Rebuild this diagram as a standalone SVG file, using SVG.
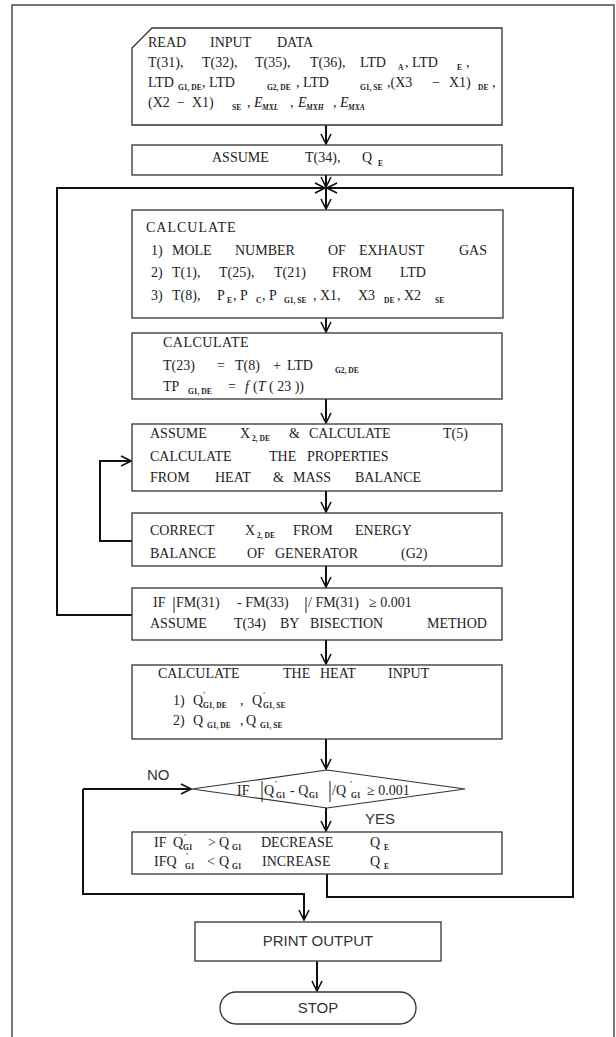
<svg xmlns="http://www.w3.org/2000/svg" width="616" height="1037" viewBox="0 0 616 1037">
<defs>
<style>
.t{font-family:"Liberation Serif","Times New Roman",serif;font-size:14px;fill:#222}
.s{font-family:"Liberation Serif","Times New Roman",serif;font-size:7.5px;font-weight:bold;fill:#222}
.sans{font-family:"Liberation Sans",Arial,sans-serif;font-size:15px;fill:#333}
.box{fill:#fff;stroke:#333;stroke-width:1.3}
.c{fill:none;stroke:#111;stroke-width:2}
</style>
<marker id="arr" viewBox="0 0 12 12" refX="11" refY="6" markerWidth="12" markerHeight="12" markerUnits="userSpaceOnUse" orient="auto"><path d="M1,1 L11,6 L1,11" fill="none" stroke="#111" stroke-width="1.6"/></marker>
</defs>
<rect width="616" height="1037" fill="#fff"/>
<rect x="12" y="5" width="602" height="1040" fill="none" stroke="#777" stroke-width="2"/>

<g id="connectors">
<path class="c" d="M326,125 V144" marker-end="url(#arr)"/>
<path class="c" d="M326,175 V187" marker-end="url(#arr)"/>
<path class="c" d="M132,615 H57 V188 H325" marker-end="url(#arr)"/>
<path class="c" d="M327,874 V897 H573 V188 H327" marker-end="url(#arr)"/>
<path class="c" d="M326,188 V209" marker-end="url(#arr)"/>
<path class="c" d="M326,318 V332" marker-end="url(#arr)"/>
<path class="c" d="M326,399 V423" marker-end="url(#arr)"/>
<path class="c" d="M326,491 V512" marker-end="url(#arr)"/>
<path class="c" d="M132,541 H100 V461 H131" marker-end="url(#arr)"/>
<path class="c" d="M326,566 V587" marker-end="url(#arr)"/>
<path class="c" d="M326,640 V664" marker-end="url(#arr)"/>
<path class="c" d="M326,739 V769" marker-end="url(#arr)"/>
<path class="c" d="M326,808 V831" marker-end="url(#arr)"/>
<path class="c" d="M83,789 H191" marker-end="url(#arr)"/>
<path class="c" d="M83,789 V894 H304 V920" marker-end="url(#arr)"/>
<path class="c" d="M317,961 V991" marker-end="url(#arr)"/>
</g>

<g id="read-input">
<path class="box" d="M152,28 L502,28 L502,125 L132,125 L132,48 Z"/>
<text class="t" x="148" y="47">READ</text><text class="t" x="210" y="47">INPUT</text><text class="t" x="277" y="47">DATA</text>
<text class="t" x="148" y="67">T(31),</text><text class="t" x="202" y="67">T(32),</text><text class="t" x="255" y="67">T(35),</text><text class="t" x="310" y="67">T(36),</text><text class="t" x="360" y="67">LTD</text><text class="s" x="398" y="70">A</text><text class="t" x="405" y="67">, LTD</text><text class="s" x="457" y="70">E</text><text class="t" x="466" y="67">,</text>
<text class="t" x="148" y="87">LTD</text><text class="s" x="178" y="90">G1, DE</text><text class="t" x="202" y="87">, LTD</text><text class="s" x="267" y="90">G2, DE</text><text class="t" x="296" y="87">, LTD</text><text class="s" x="360" y="90">G1, SE</text><text class="t" x="387" y="87">,(X3</text><text class="t" x="432" y="87">−</text><text class="t" x="449" y="87">X1)</text><text class="s" x="478" y="90">DE</text><text class="t" x="492" y="87">,</text>
<text class="t" x="148" y="107">(X2</text><text class="t" x="177" y="107">−</text><text class="t" x="192" y="107">X1)</text><text class="s" x="232" y="110">SE</text><text class="t" x="247" y="107">,</text><text class="t" x="254" y="107" font-style="italic" font-size="10">E</text><text class="s" x="262" y="110" font-style="italic">MXL</text><text class="t" x="290" y="107">,</text><text class="t" x="298" y="107" font-style="italic" font-size="10">E</text><text class="s" x="306" y="110" font-style="italic">MXH</text><text class="t" x="333" y="107">,</text><text class="t" x="340" y="107" font-style="italic" font-size="10">E</text><text class="s" x="348" y="110" font-style="italic">MXA</text>
</g>

<g id="assume-t34">
<rect class="box" x="132" y="145" width="370" height="30"/>
<text class="t" x="212" y="162">ASSUME</text><text class="t" x="305" y="162">T(34),</text><text class="t" x="362" y="162">Q</text><text class="s" x="378" y="166">E</text>
</g>

<g id="calc1">
<rect class="box" x="132" y="210" width="371" height="108"/>
<text class="t" x="146" y="232" letter-spacing="1">CALCULATE</text>
<text class="t" x="151" y="255">1)</text><text class="t" x="172" y="255">MOLE</text><text class="t" x="235" y="255">NUMBER</text><text class="t" x="328" y="255">OF</text><text class="t" x="359" y="255">EXHAUST</text><text class="t" x="459" y="255">GAS</text>
<text class="t" x="151" y="277">2)</text><text class="t" x="172" y="277">T(1),</text><text class="t" x="219" y="277">T(25),</text><text class="t" x="274" y="277">T(21)</text><text class="t" x="332" y="277">FROM</text><text class="t" x="400" y="277">LTD</text>
<text class="t" x="151" y="300">3)</text><text class="t" x="172" y="300">T(8),</text><text class="t" x="217" y="300">P</text><text class="s" x="227" y="303">E</text><text class="t" x="233" y="300">, P</text><text class="s" x="256" y="303">C</text><text class="t" x="262" y="300">, P</text><text class="s" x="284" y="303">G1, SE</text><text class="t" x="313" y="300">, X1,</text><text class="t" x="358" y="300">X3</text><text class="s" x="384" y="303">DE</text><text class="t" x="397" y="300">, X2</text><text class="s" x="435" y="303">SE</text>
</g>

<g id="calc2">
<rect class="box" x="132" y="333" width="370" height="66"/>
<text class="t" x="163" y="347" letter-spacing="0.5">CALCULATE</text>
<text class="t" x="163" y="370">T(23)</text><text class="t" x="217" y="370">=</text><text class="t" x="235" y="370">T(8)</text><text class="t" x="273" y="370">+</text><text class="t" x="287" y="370">LTD</text><text class="s" x="335" y="373">G2, DE</text>
<text class="t" x="163" y="391">TP</text><text class="s" x="188" y="394">G1, DE</text><text class="t" x="228" y="391">=</text><text class="t" x="245" y="391" font-style="italic">f</text><text class="t" x="253" y="391">(<tspan font-style="italic">T</tspan> ( 23 ))</text>
</g>

<g id="assume-x2">
<rect class="box" x="132" y="424" width="370" height="67"/>
<text class="t" x="150" y="438">ASSUME</text><text class="t" x="240" y="438">X</text><text class="s" x="252" y="441">2, DE</text><text class="t" x="289" y="438">&amp;</text><text class="t" x="309" y="438">CALCULATE</text><text class="t" x="443" y="438">T(5)</text>
<text class="t" x="150" y="461">CALCULATE</text><text class="t" x="269" y="461">THE</text><text class="t" x="307" y="461">PROPERTIES</text>
<text class="t" x="150" y="482">FROM</text><text class="t" x="215" y="482">HEAT</text><text class="t" x="273" y="482">&amp;</text><text class="t" x="293" y="482">MASS</text><text class="t" x="355" y="482">BALANCE</text>
</g>

<g id="correct-x2">
<rect class="box" x="132" y="513" width="370" height="53"/>
<text class="t" x="150" y="535">CORRECT</text><text class="t" x="245" y="535">X</text><text class="s" x="257" y="538">2, DE</text><text class="t" x="293" y="535">FROM</text><text class="t" x="355" y="535">ENERGY</text>
<text class="t" x="150" y="558">BALANCE</text><text class="t" x="247" y="558">OF</text><text class="t" x="275" y="558">GENERATOR</text><text class="t" x="401" y="558">(G2)</text>
</g>

<g id="check-fm">
<rect class="box" x="132" y="588" width="370" height="52"/>
<text class="t" x="153" y="607">IF</text><line x1="174" y1="597" x2="174" y2="613" stroke="#222" stroke-width="1"/><text class="t" x="176" y="607">FM(31)</text><text class="t" x="237" y="607">- FM(33)</text><line x1="306" y1="597" x2="306" y2="613" stroke="#222" stroke-width="1"/><text class="t" x="308" y="607">/ FM(31)</text><text class="t" x="369" y="607">≥ 0.001</text>
<text class="t" x="150" y="628">ASSUME</text><text class="t" x="234" y="628">T(34)</text><text class="t" x="280" y="628">BY</text><text class="t" x="310" y="628">BISECTION</text><text class="t" x="427" y="628">METHOD</text>
</g>

<g id="heat-input">
<rect class="box" x="132" y="665" width="370" height="74"/>
<text class="t" x="158" y="678">CALCULATE</text><text class="t" x="283" y="678">THE</text><text class="t" x="320" y="678">HEAT</text><text class="t" x="388" y="678">INPUT</text>
<text class="t" x="173" y="705">1)</text><text class="t" x="193" y="705">Q</text><text class="s" x="203" y="698">'</text><text class="s" x="203" y="708">G1, DE</text><text class="t" x="240" y="705">,</text><text class="t" x="252" y="705">Q</text><text class="s" x="263" y="698">'</text><text class="s" x="263" y="708">G1, SE</text>
<text class="t" x="173" y="725">2)</text><text class="t" x="193" y="725">Q</text><text class="s" x="207" y="728">G1, DE</text><text class="t" x="240" y="725">,</text><text class="t" x="246" y="725">Q</text><text class="s" x="260" y="728">G1, SE</text>
</g>

<g id="decision">
<polygon points="192,789 327,770 465,789 327,808" fill="#fff" stroke="#333" stroke-width="1.2"/>
<text class="t" x="237" y="795" font-size="13">IF</text><line x1="262" y1="781" x2="262" y2="802" stroke="#222" stroke-width="1"/><text class="t" x="264" y="795" font-size="13">Q</text><text class="s" x="275" y="787">'</text><text class="s" x="276" y="798">G1</text><text class="t" x="290" y="795" font-size="13">- Q</text><text class="s" x="309" y="798">G1</text><line x1="330" y1="781" x2="330" y2="802" stroke="#222" stroke-width="1"/><text class="t" x="332" y="795" font-size="13">/Q</text><text class="s" x="350" y="787">'</text><text class="s" x="351" y="798">G1</text><text class="t" x="367" y="795" font-size="13">≥ 0.001</text>
<text class="sans" x="147" y="780">NO</text>
<text class="sans" x="365" y="824">YES</text>
</g>

<g id="adjust-qe">
<rect class="box" x="132" y="832" width="370" height="42"/>
<text class="t" x="154" y="847" font-size="13">IF</text><text class="t" x="173" y="847" font-size="13">Q</text><text class="s" x="184" y="840">'</text><text class="s" x="183" y="850">G1</text><text class="t" x="208" y="847" font-size="13">&gt;</text><text class="t" x="219" y="847" font-size="13">Q</text><text class="s" x="232" y="850">G1</text><text class="t" x="261" y="847" font-size="13">DECREASE</text><text class="t" x="370" y="847" font-size="13">Q</text><text class="s" x="384" y="850">E</text>
<text class="t" x="154" y="866" font-size="13">IFQ</text><text class="s" x="186" y="859">'</text><text class="s" x="185" y="869">G1</text><text class="t" x="207" y="866" font-size="13">&lt;</text><text class="t" x="219" y="866" font-size="13">Q</text><text class="s" x="232" y="869">G1</text><text class="t" x="262" y="866" font-size="13">INCREASE</text><text class="t" x="370" y="866" font-size="13">Q</text><text class="s" x="384" y="869">E</text>
</g>

<g id="print-output">
<rect class="box" x="195" y="922" width="246" height="39"/>
<text class="sans" x="318" y="946" text-anchor="middle">PRINT OUTPUT</text>
</g>

<g id="stop">
<rect class="box" x="220" y="992" width="196" height="32" rx="16" ry="16"/>
<text class="sans" x="318" y="1013" text-anchor="middle">STOP</text>
</g>
</svg>
